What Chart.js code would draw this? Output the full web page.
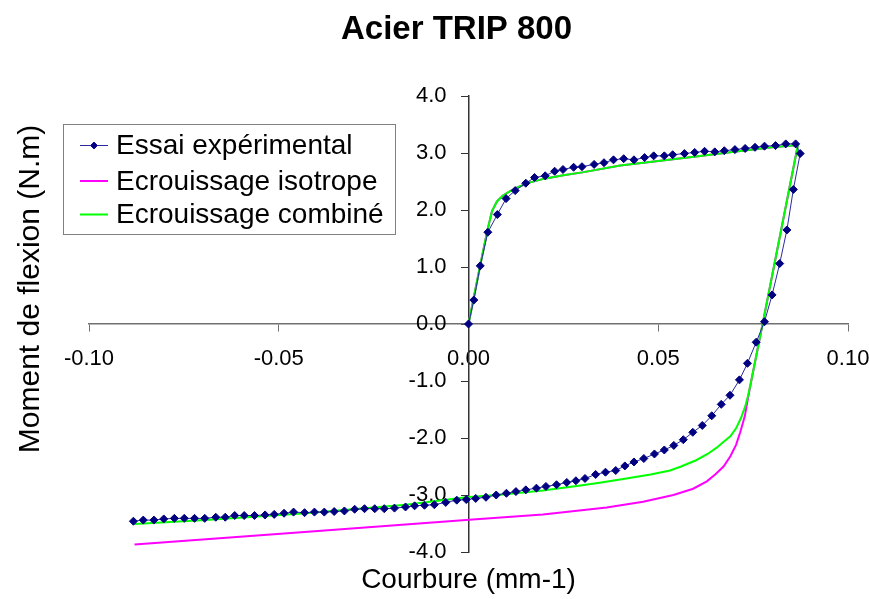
<!DOCTYPE html>
<html lang="fr">
<head>
<meta charset="utf-8">
<title>Acier TRIP 800</title>
<script src="https://cdn.jsdelivr.net/npm/chart.js@4/dist/chart.umd.min.js"></script>
<style>
  html, body { margin: 0; padding: 0; background: #ffffff; }
  #wrap { width: 869px; height: 599px; }
</style>
</head>
<body>
<div id="wrap"><canvas id="chart" width="869" height="599"></canvas></div>
<script>
// Essai de flexion alternée : courbure (mm-1) et moment (N.m)
const essaiCourbure = [
  0.0000, 0.0014, 0.0031, 0.0051, 0.0076, 0.0099, 0.0123, 0.0151, 0.0174, 0.0202,
  0.0227, 0.0249, 0.0277, 0.0299, 0.0331, 0.0357, 0.0382, 0.0409, 0.0436, 0.0464,
  0.0488, 0.0516, 0.0538, 0.0569, 0.0596, 0.0622, 0.0649, 0.0674, 0.0702, 0.0729,
  0.0755, 0.0780, 0.0809, 0.0836, 0.0862,
  0.0874, 0.0856, 0.0839, 0.0820, 0.0800, 0.0780,
  0.0758, 0.0735, 0.0714, 0.0689, 0.0666, 0.0641, 0.0616, 0.0591, 0.0566, 0.0541,
  0.0516, 0.0490, 0.0462, 0.0436, 0.0412, 0.0388, 0.0361, 0.0335, 0.0307, 0.0283,
  0.0259, 0.0232, 0.0204, 0.0179, 0.0151, 0.0125, 0.0100, 0.0073, 0.0046, 0.0019,
  -0.0006, -0.0031, -0.0060, -0.0090, -0.0116, -0.0142, -0.0166, -0.0195, -0.0222, -0.0247,
  -0.0274, -0.0300, -0.0327, -0.0354, -0.0380, -0.0406, -0.0432, -0.0461, -0.0486, -0.0512,
  -0.0536, -0.0564, -0.0591, -0.0616, -0.0641, -0.0666, -0.0695, -0.0722, -0.0749, -0.0775,
  -0.0803, -0.0829, -0.0857, -0.0883
];
const essaiMoment = [
  0.00, 0.42, 1.02, 1.61, 1.92, 2.20, 2.34, 2.47, 2.57, 2.60,
  2.68, 2.71, 2.75, 2.76, 2.80, 2.83, 2.88, 2.90, 2.88, 2.92,
  2.95, 2.95, 2.97, 2.99, 3.01, 3.03, 3.02, 3.04, 3.06, 3.08,
  3.10, 3.12, 3.13, 3.16, 3.16,
  2.99, 2.36, 1.65, 1.06, 0.51, 0.04,
  -0.32, -0.69, -0.98, -1.25, -1.41, -1.61, -1.78, -1.90, -2.03, -2.13,
  -2.21, -2.28, -2.36, -2.42, -2.49, -2.57, -2.60, -2.64, -2.71, -2.75,
  -2.78, -2.82, -2.85, -2.88, -2.91, -2.94, -2.97, -3.00, -3.04, -3.06,
  -3.08, -3.09, -3.13, -3.17, -3.18, -3.19, -3.21, -3.23, -3.24, -3.24,
  -3.24, -3.25, -3.28, -3.29, -3.30, -3.30, -3.31, -3.30, -3.32, -3.34,
  -3.35, -3.36, -3.36, -3.36, -3.39, -3.39, -3.41, -3.41, -3.41, -3.41,
  -3.42, -3.44, -3.44, -3.46
];

// Simulation, écrouissage combiné
const combineCourbure = [
  0.0000, 0.0030, 0.0050, 0.0062, 0.0075, 0.0090, 0.0110, 0.0130, 0.0160, 0.0200, 0.0250,
  0.0300, 0.0400, 0.0500, 0.0600, 0.0700, 0.0800, 0.0868,
  0.0775, 0.0745, 0.0737, 0.0729, 0.0718, 0.0705, 0.0690, 0.0670, 0.0654, 0.0630,
  0.0600, 0.0560, 0.0531, 0.0480, 0.0416, 0.0350, 0.0300, 0.0196, 0.0091, -0.0006,
  -0.0165, -0.0429, -0.0693, -0.0880
];
const combineMoment = [
  0.00, 1.00, 1.65, 1.98, 2.15, 2.25, 2.33, 2.40, 2.48, 2.55, 2.61,
  2.66, 2.78, 2.86, 2.94, 3.02, 3.10, 3.14,
  0.00, -1.00, -1.25, -1.45, -1.65, -1.83, -1.97, -2.08, -2.17, -2.28,
  -2.39, -2.50, -2.57, -2.64, -2.71, -2.78, -2.83, -2.92, -2.99, -3.04,
  -3.17, -3.32, -3.44, -3.51
];

// Simulation, écrouissage isotrope
const isotropeCourbure = [
  0.0000, 0.0030, 0.0050, 0.0062, 0.0075, 0.0090, 0.0110, 0.0130, 0.0160, 0.0200, 0.0250,
  0.0300, 0.0400, 0.0500, 0.0600, 0.0700, 0.0800, 0.0868,
  0.0775, 0.0745, 0.0737, 0.0728, 0.0716, 0.0705, 0.0690, 0.0672, 0.0650, 0.0628,
  0.0592, 0.0540, 0.0460, 0.0364, 0.0196, 0.0011, -0.0450, -0.0880
];
const isotropeMoment = [
  0.00, 1.00, 1.65, 1.98, 2.15, 2.25, 2.33, 2.40, 2.48, 2.55, 2.61,
  2.66, 2.78, 2.86, 2.94, 3.02, 3.10, 3.14,
  0.00, -1.00, -1.28, -1.62, -1.90, -2.12, -2.32, -2.50, -2.64, -2.76,
  -2.89, -3.00, -3.12, -3.22, -3.34, -3.43, -3.66, -3.87
];

const xTicks = [-0.10, -0.05, 0.00, 0.05, 0.10];
const yTicks = [-4.0, -3.0, -2.0, -1.0, 0.0, 1.0, 2.0, 3.0, 4.0];

const titre = 'Acier TRIP 800';
const titreX = 'Courbure (mm-1)';
const titreY = 'Moment de flexion (N.m)';

const toPoints = (xs, ys) => xs.map((x, i) => ({ x: x, y: ys[i] }));

const FONT = '"Liberation Sans", Arial, Helvetica, sans-serif';
Chart.defaults.font.family = FONT;
Chart.defaults.color = '#000000';

// Title, axis titles and the boxed legend inside the plot
const textesPlugin = {
  id: 'textes',
  afterDraw(chart) {
    const ctx = chart.ctx;
    const area = chart.chartArea;
    ctx.save();
    ctx.fillStyle = '#000000';

    ctx.font = 'bold 33px ' + FONT;
    ctx.textAlign = 'center';
    ctx.textBaseline = 'alphabetic';
    ctx.fillText(titre, 456.5, 39);

    ctx.font = '28px ' + FONT;
    ctx.textBaseline = 'middle';
    ctx.fillText(titreX, (area.left + area.right) / 2, 580);

    ctx.save();
    ctx.translate(31, 289);
    ctx.rotate(-Math.PI / 2);
    ctx.font = '30px ' + FONT;
    ctx.fillText(titreY, 0, 0);
    ctx.restore();

    // legend box
    const bx = 63.5, by = 124.5, bw = 332, bh = 110;
    ctx.fillStyle = '#ffffff';
    ctx.fillRect(bx, by, bw, bh);
    ctx.strokeStyle = '#808080';
    ctx.lineWidth = 1;
    ctx.strokeRect(bx, by, bw, bh);

    const rows = [145.5, 181, 214.5];
    chart.data.datasets.forEach((ds, i) => {
      const yy = rows[i];
      ctx.strokeStyle = ds.borderColor;
      ctx.lineWidth = i === 0 ? 1 : 2;
      ctx.beginPath();
      ctx.moveTo(80, yy);
      ctx.lineTo(108, yy);
      ctx.stroke();
      if (ds.pointRadius > 0) {
        Chart.helpers.drawPoint(ctx, {
          pointStyle: ds.pointStyle, radius: 3.5, rotation: 0, borderWidth: 1
        }, 94, yy);
        ctx.fillStyle = ds.pointBackgroundColor;
        ctx.fill();
      }
      ctx.fillStyle = '#000000';
      ctx.font = '28px ' + FONT;
      ctx.textAlign = 'left';
      ctx.textBaseline = 'middle';
      ctx.fillText(ds.label, 116, yy + 1);
    });
    ctx.restore();
  }
};

const sansMarges = (scale) => {
  scale.paddingLeft = 0;
  scale.paddingRight = 0;
  scale.paddingTop = 0;
  scale.paddingBottom = 0;
};

new Chart(document.getElementById('chart'), {
  type: 'scatter',
  data: {
    datasets: [
      {
        label: 'Essai expérimental',
        data: toPoints(essaiCourbure, essaiMoment),
        showLine: true,
        borderColor: '#2a2aa0',
        borderWidth: 1,
        pointStyle: 'rectRot',
        pointRadius: 4,
        pointBackgroundColor: '#000080',
        pointBorderColor: '#000080',
        pointBorderWidth: 1,
        order: 0
      },
      {
        label: 'Ecrouissage isotrope',
        data: toPoints(isotropeCourbure, isotropeMoment),
        showLine: true,
        borderColor: '#ff00ff',
        borderWidth: 2,
        pointRadius: 0,
        order: 2
      },
      {
        label: 'Ecrouissage combiné',
        data: toPoints(combineCourbure, combineMoment),
        showLine: true,
        borderColor: '#00ff00',
        borderWidth: 2,
        pointRadius: 0,
        order: 1
      }
    ]
  },
  options: {
    responsive: false,
    animation: false,
    events: [],
    layout: { padding: { left: 89, right: 21, top: 96, bottom: 47 } },
    plugins: {
      legend: { display: false },
      title: { display: false },
      tooltip: { enabled: false }
    },
    scales: {
      x: {
        type: 'linear',
        position: { y: 0 },
        min: xTicks[0],
        max: xTicks[xTicks.length - 1],
        afterBuildTicks: (scale) => { scale.ticks = xTicks.map(v => ({ value: v })); },
        afterFit: sansMarges,
        ticks: {
          callback: (v) => Number(v).toFixed(2),
          font: { size: 22 },
          color: '#000000',
          padding: 15,
          maxRotation: 0,
          autoSkip: false
        },
        grid: { drawOnChartArea: false, drawTicks: true, tickLength: 7, color: '#707070' },
        border: { display: true, color: '#707070', width: 1.5 }
      },
      y: {
        type: 'linear',
        position: { x: 0 },
        min: yTicks[0],
        max: yTicks[yTicks.length - 1],
        afterBuildTicks: (scale) => { scale.ticks = yTicks.map(v => ({ value: v })); },
        afterFit: sansMarges,
        ticks: {
          callback: (v) => Number(v).toFixed(1) + '\u2003',
          font: { size: 22 },
          color: '#000000',
          autoSkip: false
        },
        grid: { drawOnChartArea: false, drawTicks: true, tickLength: 7, color: '#333333' },
        border: { display: true, color: '#333333', width: 1.5 }
      }
    }
  },
  plugins: [textesPlugin]
});
</script>
</body>
</html>
